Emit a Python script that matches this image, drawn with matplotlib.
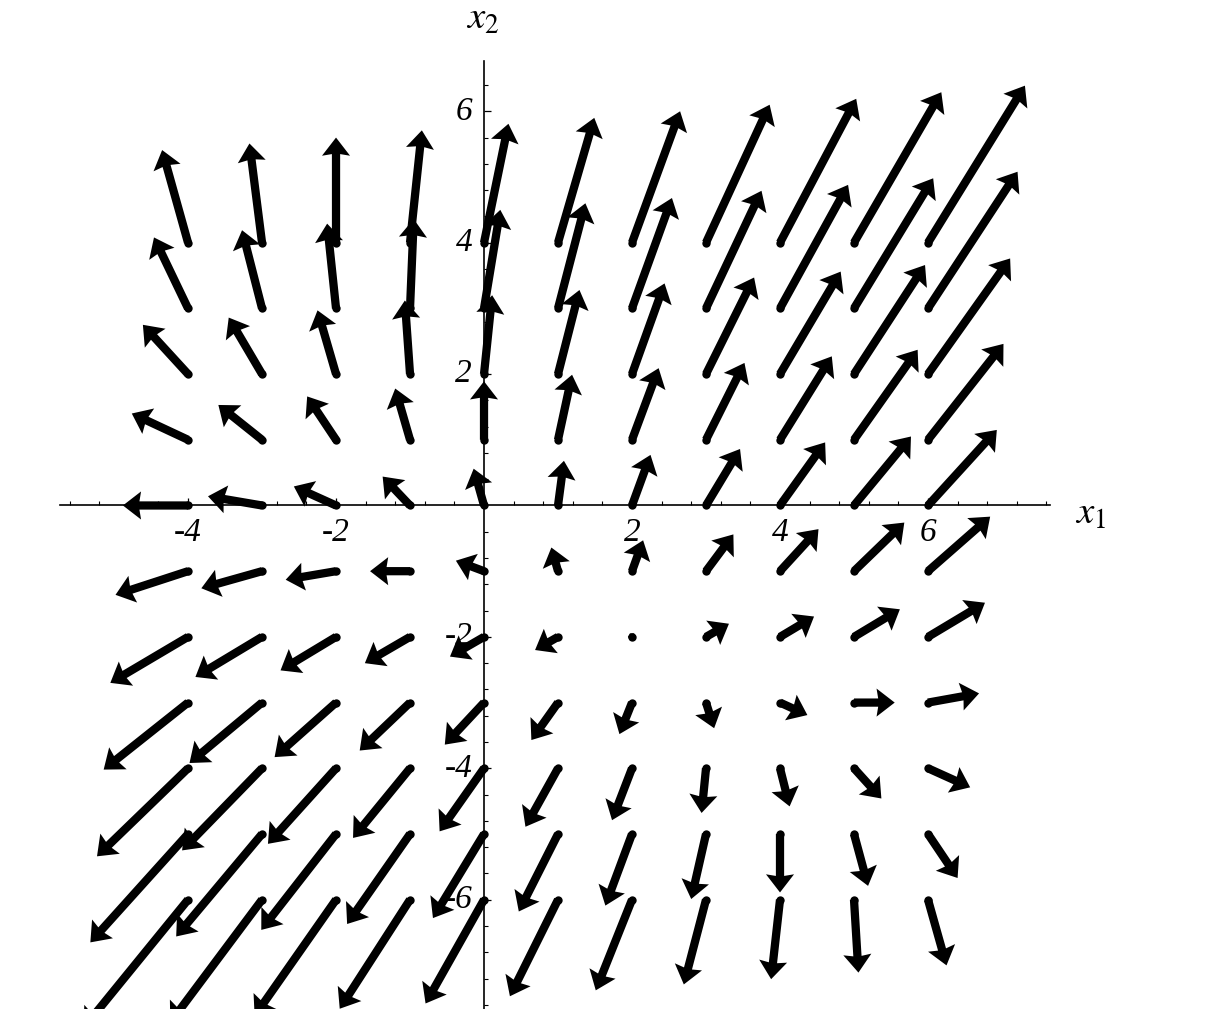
import matplotlib.pyplot as plt
import numpy as np

plt.rcParams["mathtext.fontset"] = "stix"

# grid of arrow tails
x1_values = [-4, -3, -2, -1, 0, 1, 2, 3, 4, 5, 6]
x2_values = [4, 3, 2, 1, 0, -1, -2, -3, -4, -5, -6]

# arrow components, one row per x2 value (top to bottom)
u_rows = [
    [-0.35, -0.17, 0.00, 0.16, 0.33, 0.49, 0.65, 0.86, 1.03, 1.18, 1.31],
    [-0.46, -0.27, -0.12, 0.05, 0.22, 0.37, 0.54, 0.75, 0.92, 1.07, 1.21],
    [-0.61, -0.45, -0.25, -0.07, 0.11, 0.29, 0.44, 0.65, 0.82, 0.96, 1.11],
    [-0.76, -0.59, -0.39, -0.20, 0.00, 0.19, 0.36, 0.52, 0.70, 0.86, 1.02],
    [-0.88, -0.73, -0.57, -0.37, -0.14, 0.08, 0.25, 0.46, 0.61, 0.77, 0.93],
    [-0.98, -0.82, -0.68, -0.54, -0.38, -0.09, 0.15, 0.37, 0.52, 0.68, 0.84],
    [-1.05, -0.90, -0.75, -0.61, -0.46, -0.31, 0.00, 0.31, 0.46, 0.62, 0.77],
    [-1.14, -0.98, -0.83, -0.68, -0.53, -0.36, -0.17, 0.11, 0.37, 0.55, 0.69],
    [-1.23, -1.08, -0.92, -0.77, -0.60, -0.44, -0.27, -0.06, 0.13, 0.37, 0.57],
    [-1.32, -1.16, -1.01, -0.85, -0.69, -0.53, -0.36, -0.20, 0.00, 0.19, 0.40],
    [-1.41, -1.24, -1.10, -0.95, -0.79, -0.65, -0.49, -0.30, -0.12, 0.06, 0.25],
]
v_rows = [
    [1.41, 1.51, 1.60, 1.71, 1.81, 1.90, 2.00, 2.10, 2.19, 2.29, 2.39],
    [1.08, 1.19, 1.29, 1.36, 1.50, 1.60, 1.68, 1.79, 1.88, 1.98, 2.08],
    [0.75, 0.86, 0.97, 1.12, 1.20, 1.28, 1.38, 1.47, 1.56, 1.66, 1.76],
    [0.40, 0.53, 0.66, 0.78, 0.89, 0.99, 1.09, 1.17, 1.27, 1.37, 1.46],
    [0.00, 0.14, 0.29, 0.44, 0.56, 0.68, 0.77, 0.86, 0.96, 1.05, 1.15],
    [-0.36, -0.26, -0.13, 0.00, 0.16, 0.36, 0.47, 0.56, 0.64, 0.74, 0.83],
    [-0.70, -0.61, -0.51, -0.40, -0.30, -0.20, 0.00, 0.20, 0.31, 0.42, 0.52],
    [-1.02, -0.92, -0.83, -0.73, -0.64, -0.57, -0.48, -0.39, -0.19, 0.00, 0.14],
    [-1.34, -1.25, -1.15, -1.06, -0.96, -0.89, -0.79, -0.68, -0.58, -0.46, -0.29],
    [-1.65, -1.56, -1.46, -1.37, -1.28, -1.18, -1.09, -0.99, -0.89, -0.79, -0.67],
    [-1.95, -1.87, -1.77, -1.66, -1.58, -1.47, -1.38, -1.29, -1.21, -1.11, -1.00],
]

x_ticks = [-4, -2, 2, 4, 6]
x_tick_labels = ["-4", "-2", "2", "4", "6"]
y_ticks = [6, 4, 2, -2, -4, -6]
y_tick_labels = ["6", "4", "2", "-2", "-4", "-6"]


def main():
    fig = plt.figure(figsize=(12.14, 10.09), dpi=100)
    ax = fig.add_axes([0, 0, 1, 1])
    ax.set_xlim(-6.541, 9.865)
    ax.set_ylim(-7.664, 7.694)

    X1, X2 = np.meshgrid(x1_values, x2_values)
    U = np.array(u_rows)
    V = np.array(v_rows)

    ax.quiver(X1, X2, U, V, angles="xy", scale_units="xy", scale=1,
              width=0.0068, headwidth=3.4, headlength=2.2,
              headaxislength=2.0, color="black", zorder=3)
    # round caps at the tails
    ax.scatter(X1.ravel(), X2.ravel(), s=36, color="black",
               linewidths=0, zorder=3)

    # axes through the origin
    for side in ("top", "right"):
        ax.spines[side].set_visible(False)
    ax.spines["bottom"].set_position(("data", 0))
    ax.spines["left"].set_position(("data", 0))
    ax.spines["bottom"].set_bounds(-5.73, 7.65)
    ax.spines["left"].set_bounds(-7.7, 6.76)
    ax.spines["bottom"].set_linewidth(1.2)
    ax.spines["left"].set_linewidth(1.2)

    minor_x = [round(t, 1) for t in np.arange(-5.6, 7.7, 0.4)
               if abs(t - round(t)) > 0.05 or round(t) % 2]
    minor_y = [round(t, 1) for t in np.arange(-7.6, 6.5, 0.4)
               if abs(t - round(t)) > 0.05 or round(t) % 2]
    ax.set_xticks(x_ticks)
    ax.set_yticks(y_ticks)
    ax.set_xticks(minor_x, minor=True)
    ax.set_yticks(minor_y, minor=True)
    ax.set_xticklabels([])
    ax.set_yticklabels([])
    ax.tick_params(which="major", direction="in", length=5, width=0.9)
    ax.tick_params(which="minor", direction="in", length=2.8, width=0.8)

    label_font = dict(family="Liberation Serif", style="italic",
                      fontsize=24, color="black", zorder=2)
    for t, lab in zip(x_ticks, x_tick_labels):
        ax.text(t, -0.19, lab, ha="center", va="top", **label_font)
    for t, lab in zip(y_ticks, y_tick_labels):
        ax.text(-0.16, t, lab, ha="right", va="center", **label_font)

    ax.text(-0.02, 7.42, r"$x_2$", fontsize=28, ha="center", va="center")
    ax.text(8.2, -0.12, r"$x_1$", fontsize=28, ha="center", va="center")

    fig.savefig("out.png", dpi=100)


if __name__ == "__main__":
    main()
